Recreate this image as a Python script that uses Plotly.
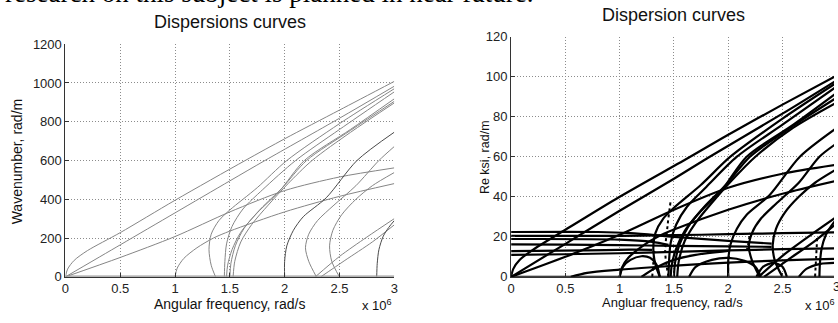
import plotly.graph_objects as go

# ---------------- data : left panel (x in 1e6 rad/s, wavenumber rad/m) ----------------
LA_w = [0, 0.02, 0.08, 0.2, 0.5, 1.0, 1.64, 2.0, 2.5, 3.0]
LA_k = [0, 40, 85, 135, 228, 395, 600, 712, 860, 1008]
LB_w = [0, 0.5, 1.0, 1.5, 1.82, 2.5, 3.0]
LB_k = [0, 165, 330, 495, 600, 818, 983]
LC_w = [0, 0.5, 1.0, 1.5, 2.0, 2.5, 3.0]
LC_k = [0, 100, 208, 335, 445, 515, 562]
LD_w = [1.0, 1.02, 1.08, 1.2, 1.35, 1.5, 2.0, 2.5, 3.0]
LD_k = [0, 45, 95, 150, 200, 236, 335, 415, 481]
LP_w = [1.37, 1.33, 1.31, 1.33, 1.4, 1.5, 1.75, 2.02, 2.5, 3.0]
LP_k = [0, 60, 140, 220, 290, 345, 460, 600, 790, 970]
LQ_w = [1.45, 1.455, 1.47, 1.52, 1.62, 1.8, 2.1, 2.5, 3.0]
LQ_k = [0, 80, 170, 260, 350, 450, 600, 760, 954]
LR_w = [1.47, 1.48, 1.52, 1.6, 1.75, 1.95, 2.18, 2.6, 3.0]
LR_k = [0, 60, 140, 230, 330, 440, 600, 760, 918]
LR2_w = [1.5, 1.51, 1.55, 1.63, 1.78, 1.98, 2.2, 2.6, 3.0]
LR2_k = [0, 70, 160, 250, 350, 460, 600, 755, 905]
LS_w = [1.53, 1.545, 1.6, 1.7, 1.85, 2.03, 2.25, 2.6, 3.0]
LS_k = [0, 80, 180, 270, 370, 480, 600, 745, 897]
LE_w = [2.0, 2.0, 2.02, 2.08, 2.17, 2.38, 2.66, 3.0]
LE_k = [0, 80, 160, 240, 310, 408, 600, 746]
LF_w = [2.29, 2.22, 2.19, 2.22, 2.3, 2.45, 2.65, 2.86, 3.0]
LF_k = [0, 80, 150, 220, 290, 370, 470, 600, 672]
LG_w = [2.5, 2.43, 2.41, 2.44, 2.52, 2.65, 2.8, 3.0]
LG_k = [0, 80, 160, 240, 320, 400, 470, 538]
LH_w = [2.28, 2.5, 2.75, 3.0]
LH_k = [0, 105, 205, 300]
LI_w = [2.33, 2.55, 2.8, 3.0]
LI_k = [0, 85, 180, 268]
LJ_w = [2.84, 2.845, 2.86, 2.9, 2.95, 3.0]
LJ_k = [0, 70, 140, 210, 255, 290]

# ---------------- data : right panel (x in 1e6 rad/s, Re ksi rad/m) ----------------
RA_w = [0, 0.02, 0.08, 0.2, 0.5, 1.0, 1.65, 2.0, 2.5, 3.0]
RA_k = [0, 4, 8.5, 13.5, 23.5, 40, 60, 71, 86, 100.6]
RB_w = [0, 0.5, 1.0, 1.5, 1.83, 2.5, 3.0]
RB_k = [0, 16.5, 33, 49, 60, 81.5, 98.2]
RC_w = [0, 0.5, 1.0, 1.5, 2.0, 2.5, 3.0]
RC_k = [0, 10, 21, 33.5, 44.5, 51.5, 56]
RD_w = [1.0, 1.02, 1.08, 1.2, 1.35, 1.5, 2.0, 2.5, 3.0]
RD_k = [0, 4.5, 9.5, 15, 20, 23.6, 33.5, 41.5, 48]
RP_w = [1.37, 1.33, 1.31, 1.33, 1.4, 1.5, 1.75, 2.02, 2.5, 3.0]
RP_k = [0, 6, 14, 22, 29, 34.5, 46, 60, 79, 97]
RQ_w = [1.45, 1.455, 1.47, 1.52, 1.62, 1.8, 2.08, 2.5, 3.0]
RQ_k = [0, 8, 17, 26, 35, 45, 60, 76, 95.1]
RR_w = [1.47, 1.48, 1.52, 1.6, 1.75, 1.95, 2.17, 2.6, 3.0]
RR_k = [0, 6, 14, 23, 33, 44, 60, 76, 91.9]
RR2_w = [1.5, 1.51, 1.55, 1.63, 1.78, 1.98, 2.2, 2.6, 3.0]
RR2_k = [0, 7, 16, 25, 35, 46, 60, 75.5, 89.5]
RS_w = [1.53, 1.545, 1.6, 1.7, 1.85, 2.03, 2.25, 2.6, 3.0]
RS_k = [0, 8, 18, 27, 37, 48, 60, 74.5, 87.1]
RE_w = [2.0, 2.0, 2.02, 2.08, 2.17, 2.38, 2.66, 3.0]
RE_k = [0, 8, 16, 24, 31, 40.8, 60, 74.4]
RF_w = [2.29, 2.22, 2.19, 2.22, 2.3, 2.45, 2.65, 2.84, 3.0]
RF_k = [0, 8, 15, 22, 29, 37, 47, 60, 66.7]
RG_w = [2.5, 2.43, 2.41, 2.44, 2.52, 2.65, 2.8, 3.0]
RG_k = [0, 8, 16, 24, 32, 40, 47, 53.8]
RH_w = [2.28, 2.5, 2.75, 3.0]
RH_k = [0, 10.5, 20.5, 30]
RI_w = [2.33, 2.55, 2.8, 3.0]
RI_k = [0, 8.5, 18, 26.8]
RJ_w = [2.84, 2.845, 2.86, 2.9, 2.95, 3.0]
RJ_k = [0, 7, 14, 21, 25.5, 29]
# evanescent (real part of complex roots), nearly flat lines
RH1_w = [0, 0.8, 1.1, 1.5, 2.0, 2.4]
RH1_k = [22.4, 22.4, 21.8, 20.0, 18.0, 16.6]
RH2_w = [0, 1.0, 1.5, 2.0, 2.5, 3.0]
RH2_k = [20.5, 20.5, 20.8, 21.3, 21.8, 22.2]
RH3_w = [0, 1.0, 1.3, 1.45]
RH3_k = [18.9, 18.6, 17.5, 16.0]
RH4_w = [0, 0.5, 1.0, 1.5, 2.0, 2.4]
RH4_k = [16.2, 16.1, 15.8, 15.5, 15.2, 15.0]
RH5_w = [0, 0.7, 1.1, 1.3]
RH5_k = [12.9, 13.2, 13.6, 13.5]
RH6_w = [0, 0.5, 1.0, 1.5, 2.0, 2.5, 3.0]
RH6_k = [11.0, 11.3, 11.8, 12.5, 13.2, 13.8, 14.2]
# arcs near the axis
RAR1_w = [0.55, 0.7, 1.0, 1.3, 1.7, 2.2, 2.7, 3.0]
RAR1_k = [0, 2.0, 3.6, 4.8, 6.2, 7.6, 8.6, 9.0]
RAR2_w = [1.0, 1.03, 1.1, 1.2, 1.28, 1.34, 1.37]
RAR2_k = [0, 5, 8.5, 10.3, 9.5, 6, 0]
RAR3_w = [1.2, 1.35, 1.5, 1.7, 2.0]
RAR3_k = [0, 5, 8.5, 11, 13]
RAR4_w = [1.64, 1.7, 1.85, 2.0, 2.15, 2.25, 2.3]
RAR4_k = [0, 5, 8.5, 9.5, 8, 5, 0]
RAR5_w = [2.26, 2.32, 2.42, 2.5, 2.54]
RAR5_k = [0, 5, 7, 5, 0]
RAR6_w = [2.65, 2.72, 2.85, 3.0]
RAR6_k = [0, 4, 6.5, 7]
RZERO_w = [0, 3.0]
RZERO_k = [0, 0]
# dotted root-tracking segments
RDT1_w = [1.3, 1.31, 1.32]
RDT1_k = [0, 7, 13]
RDT2_w = [1.45, 1.42, 1.44, 1.47]
RDT2_k = [0, 12, 25, 38]
RDT3_w = [2.0, 2.0, 2.01]
RDT3_k = [0, 6, 12]
RDT4_w = [2.17, 2.19, 2.2]
RDT4_k = [13, 18, 22]
RDT5_w = [2.8, 2.81, 2.82]
RDT5_k = [0, 10, 20]

x_ticks = [0, 0.5, 1, 1.5, 2, 2.5, 3]
x_tick_text = ["0", "0.5", "1", "1.5", "2", "2.5", "3"]
left_y_ticks = [0, 200, 400, 600, 800, 1000, 1200]
right_y_ticks = [0, 20, 40, 60, 80, 100, 120]

left_curves = [(LA_w, LA_k), (LB_w, LB_k), (LC_w, LC_k), (LD_w, LD_k), (LP_w, LP_k),
               (LQ_w, LQ_k), (LR_w, LR_k), (LR2_w, LR2_k), (LS_w, LS_k), (LE_w, LE_k),
               (LF_w, LF_k), (LG_w, LG_k), (LH_w, LH_k), (LI_w, LI_k), (LJ_w, LJ_k)]
left_dark = {9, 14}
right_curves = [(RA_w, RA_k), (RB_w, RB_k), (RC_w, RC_k), (RD_w, RD_k), (RP_w, RP_k),
                (RQ_w, RQ_k), (RR_w, RR_k), (RR2_w, RR2_k), (RS_w, RS_k), (RE_w, RE_k),
                (RF_w, RF_k), (RG_w, RG_k), (RH_w, RH_k), (RI_w, RI_k), (RJ_w, RJ_k),
                (RH1_w, RH1_k), (RH2_w, RH2_k), (RH3_w, RH3_k), (RH4_w, RH4_k),
                (RH5_w, RH5_k), (RH6_w, RH6_k), (RAR1_w, RAR1_k), (RAR2_w, RAR2_k),
                (RAR3_w, RAR3_k), (RAR4_w, RAR4_k), (RAR5_w, RAR5_k), (RAR6_w, RAR6_k),
                (RZERO_w, RZERO_k)]
right_dotted = [(RDT1_w, RDT1_k), (RDT2_w, RDT2_k), (RDT3_w, RDT3_k),
                (RDT4_w, RDT4_k), (RDT5_w, RDT5_k)]

W, H = 838, 323
fig = go.Figure()

for i, (w, k) in enumerate(left_curves):
    fig.add_trace(go.Scatter(x=w, y=k, mode="lines", xaxis="x", yaxis="y",
                             line=dict(color="#4a4a4a" if i in left_dark else "#858585",
                                       width=1, shape="spline", smoothing=0.8),
                             showlegend=False, hoverinfo="skip"))
fig.add_trace(go.Scatter(x=[0, 3], y=[0, 0], mode="lines", xaxis="x", yaxis="y",
                         line=dict(color="#9a9a9a", width=2.5), showlegend=False))

for w, k in right_curves:
    fig.add_trace(go.Scatter(x=w, y=k, mode="lines", xaxis="x2", yaxis="y2",
                             line=dict(color="#000000", width=2.2, shape="spline", smoothing=0.8),
                             showlegend=False, hoverinfo="skip"))
for w, k in right_dotted:
    fig.add_trace(go.Scatter(x=w, y=k, mode="lines", xaxis="x2", yaxis="y2",
                             line=dict(color="#000000", width=2, dash="dot", shape="spline"),
                             showlegend=False, hoverinfo="skip"))

tickfont = dict(family="Liberation Sans, Arial, sans-serif", size=13, color="#222222")
grid = dict(showgrid=True, gridcolor="#8c8c8c", griddash="1px,2px", gridwidth=1,
            zeroline=False, ticks="inside", ticklen=4, tickcolor="#333333",
            showline=True, linecolor="#333333", linewidth=1, tickfont=tickfont)

fig.update_layout(
    width=W, height=H, margin=dict(l=0, r=0, t=0, b=0),
    paper_bgcolor="white", plot_bgcolor="white",
    xaxis=dict(domain=[62 / W, 394 / W], range=[0, 3], tickvals=x_ticks,
               ticktext=x_tick_text, anchor="y", **grid),
    yaxis=dict(domain=[40 / H, 284 / H], range=[0, 1200], tickvals=left_y_ticks,
               anchor="x", **grid),
    xaxis2=dict(domain=[512 / W, 1.0], range=[0, (W - 512) / 109.6], tickvals=x_ticks,
                ticktext=x_tick_text, anchor="y2", **grid),
    yaxis2=dict(domain=[40 / H, 292 / H], range=[0, 120], tickvals=right_y_ticks,
                anchor="x2", **grid),
)

txt = "Liberation Sans, Arial, sans-serif"
ann = [
    dict(text="research on this subject is planned in near future.", x=-1 / W, y=1 - 3.5 / H,
         xanchor="left", yanchor="bottom",
         font=dict(family="Liberation Serif, Times New Roman, serif", size=27, color="#000")),
    dict(text="Dispersions curves", x=228 / W, y=1 - 16 / H, xanchor="center", yanchor="middle",
         font=dict(family=txt, size=18, color="#111")),
    dict(text="Dispersion curves", x=676 / W, y=1 - 8 / H, xanchor="center", yanchor="middle",
         font=dict(family=txt, size=18, color="#111")),
    dict(text="Angular frequency, rad/s", x=228 / W, y=1 - 311 / H, xanchor="center",
         yanchor="middle", font=dict(family=txt, size=14, color="#111")),
    dict(text="Angluar frequency, rad/s", x=675 / W, y=1 - 309.5 / H, xanchor="center",
         yanchor="middle", font=dict(family=txt, size=13, color="#111")),
    dict(text="Wavenumber, rad/m", x=14 / W, y=1 - 162 / H, xanchor="center", yanchor="middle",
         textangle=-90, font=dict(family=txt, size=14, color="#111")),
    dict(text="Re ksi, rad/m", x=485 / W, y=1 - 157 / H, xanchor="center", yanchor="middle",
         textangle=-90, font=dict(family=txt, size=12.5, color="#111")),
    dict(text="x 10<sup>6</sup>", x=377 / W, y=1 - 312 / H, xanchor="center", yanchor="middle",
         font=dict(family=txt, size=13, color="#111")),
    dict(text="x 10<sup>6</sup>", x=824 / W, y=1 - 313 / H, xanchor="center", yanchor="middle",
         font=dict(family=txt, size=13, color="#111")),
    dict(text="3", x=841 / W, y=1 - 293 / H, xanchor="center", yanchor="middle",
         font=dict(family=txt, size=13, color="#222")),
]
for a in ann:
    a.update(xref="paper", yref="paper", showarrow=False)
fig.update_layout(annotations=ann)

fig.write_html("out.html")
